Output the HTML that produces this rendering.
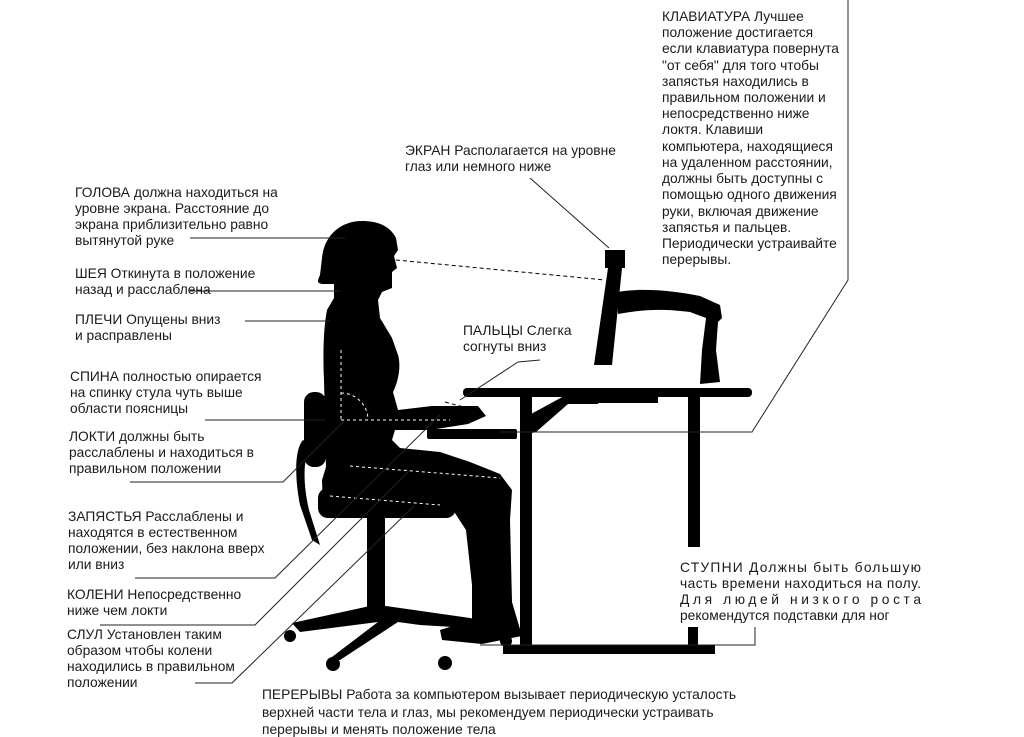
<!DOCTYPE html>
<html><head><meta charset="utf-8"><style>
html,body{margin:0;padding:0;background:#fff}
svg{display:block}
text{font-family:"Liberation Sans",sans-serif;font-size:13.8px;fill:#1a1a1a}
</style></head><body>
<svg width="1024" height="737" viewBox="0 0 1024 737" xmlns="http://www.w3.org/2000/svg">
<g fill="#000">
<!-- desk -->
<rect x="463" y="388" width="289" height="9" rx="4"/>
<rect x="520" y="395" width="12" height="252"/>
<rect x="688" y="395" width="12" height="152"/>
<rect x="503" y="645" width="212" height="9"/>
<rect x="688" y="627" width="10" height="18"/>
<polygon points="680,645 706,645 712,650 675,650"/>
<polygon points="520,420 566,395 600,395 598,404 568,404 536,432 520,436"/>
<rect x="427" y="429" width="90" height="10" rx="2"/>
<rect x="580" y="395" width="78" height="8"/>
<!-- monitor -->
<rect x="605" y="250" width="20" height="18"/>
<polygon points="608,268 622,268 612,365 594,365"/>
<path d="M617,292 C640,288 670,290 700,296 L720,305 L722,318 L718,322 L716,350 L720,382 L700,384 L702,350 L706,318 L690,312 C660,308 640,310 618,314 Z"/>
<!-- person -->
<path d="M362,221 C340,221 324,236 322,258 L320,275 C318,280 316,283 322,284 L334,284 L334,298 L327,310 C323,330 323,360 324,380 L325,420 L326,467 L322,480 L323,508 L453,510 L466,530 L472,585 L472,620 L440,630 L442,640 L482,644 L522,636 L512,602 L510,520 L512,490 L500,474 L470,462 L440,452 L400,448 L392,440 L395,430 L430,430 L468,424 L486,416 L478,406 L432,406 L398,410 L393,392 C399,380 401,365 398,355 L392,338 L380,318 L378,300 L382,292 L392,288 L392,272 L397,268 L394,256 L398,250 L396,238 C390,226 378,221 362,221 Z"/>
<!-- chair -->
<rect x="304" y="392" width="22" height="75" rx="10"/>
<path d="M303,440 C294,450 295,480 300,505 L312,540 L320,545 L309,510 C302,480 304,458 310,444 Z"/>
<rect x="318" y="488" width="138" height="30" rx="10"/>
<rect x="367" y="515" width="18" height="95"/>
<polygon points="292,623 370,606 386,606 470,618 512,628 512,634 470,628 420,625 398,622 340,660 328,660 378,622 300,632"/>
<circle cx="290" cy="636" r="6"/><circle cx="333" cy="664" r="7"/><circle cx="445" cy="663" r="7"/><circle cx="506" cy="641" r="6"/>
</g>
<g stroke="#fff" stroke-width="1" stroke-dasharray="3,3" fill="none">
<line x1="341" y1="350" x2="341" y2="420"/>
<line x1="341" y1="420" x2="450" y2="420"/>
<line x1="350" y1="466" x2="500" y2="478"/>
<line x1="330" y1="496" x2="440" y2="505"/>
<path d="M341,393 A27,27 0 0 1 368,420"/>
</g>
<g stroke="#000" stroke-width="1" stroke-dasharray="4,3" fill="none">
<line x1="396" y1="260" x2="605" y2="280"/>
<line x1="445" y1="402" x2="475" y2="410"/>
</g>
<g stroke="#222" stroke-width="1" fill="none">
<line x1="190" y1="238" x2="345" y2="238"/>
<line x1="190" y1="291" x2="340" y2="291"/>
<line x1="245" y1="321" x2="330" y2="321"/>
<line x1="205" y1="420" x2="325" y2="420"/>
<polyline points="130,482 283,482 345,420"/>
<polyline points="135,578 275,578 440,415"/>
<polyline points="100,625 255,625 410,470"/>
<polyline points="195,683 232,683 415,505"/>
<line x1="530" y1="178" x2="609" y2="248"/>
<polyline points="540,360 518,362 460,400"/>
<polyline points="848,0 848,280 752,432 500,432"/>
<polyline points="480,645 755,645 755,627"/>
</g>
<text x="75" y="197">ГОЛОВА должна находиться на</text>
<text x="75" y="213">уровне экрана. Расстояние до</text>
<text x="75" y="229">экрана приблизительно равно</text>
<text x="75" y="245">вытянутой руке</text>
<text x="75" y="278">ШЕЯ   Откинута в положение</text>
<text x="75" y="294">назад и расслаблена</text>
<text x="75" y="324">ПЛЕЧИ Опущены вниз</text>
<text x="75" y="340">и расправлены</text>
<text x="70" y="381">СПИНА полностью опирается</text>
<text x="70" y="397">на спинку стула  чуть выше</text>
<text x="70" y="413">области поясницы</text>
<text x="69" y="441">ЛОКТИ должны быть</text>
<text x="69" y="457">расслаблены и находиться в</text>
<text x="69" y="473">правильном положении</text>
<text x="68" y="521">ЗАПЯСТЬЯ Расслаблены и</text>
<text x="68" y="537">находятся в естественном</text>
<text x="68" y="553">положении, без наклона вверх</text>
<text x="68" y="569">или вниз</text>
<text x="67" y="599">КОЛЕНИ Непосредственно</text>
<text x="67" y="615">ниже чем локти</text>
<text x="67" y="639">СЛУЛ Установлен таким</text>
<text x="67" y="655">образом чтобы колени</text>
<text x="67" y="671">находились в правильном</text>
<text x="67" y="687">положении</text>
<text x="262" y="699">ПЕРЕРЫВЫ Работа за компьютером вызывает периодическую усталость</text>
<text x="262" y="717">верхней части тела и глаз, мы рекомендуем периодически устраивать</text>
<text x="262" y="734">перерывы и менять положение тела</text>
<text x="405" y="155">ЭКРАН Располагается на уровне</text>
<text x="405" y="171">глаз или немного ниже</text>
<text x="463" y="335">ПАЛЬЦЫ Слегка</text>
<text x="463" y="351">согнуты вниз</text>
<text x="662" y="21">КЛАВИАТУРА Лучшее</text>
<text x="662" y="37">положение достигается</text>
<text x="662" y="53">если клавиатура повернута</text>
<text x="662" y="70">"от себя" для того чтобы</text>
<text x="662" y="86">запястья находились в</text>
<text x="662" y="102">правильном положении и</text>
<text x="662" y="118">непосредственно ниже</text>
<text x="662" y="134">локтя.  Клавиши</text>
<text x="662" y="151">компьютера, находящиеся</text>
<text x="662" y="167">на удаленном расстоянии,</text>
<text x="662" y="183">должны быть доступны с</text>
<text x="662" y="199">помощью одного движения</text>
<text x="662" y="216">руки, включая движение</text>
<text x="662" y="232">запястья и пальцев.</text>
<text x="662" y="248">Периодически устраивайте</text>
<text x="662" y="264">перерывы.</text>
<text x="680" y="572" textLength="241" lengthAdjust="spacing">СТУПНИ  Должны  быть  большую</text>
<text x="680" y="588" textLength="241" lengthAdjust="spacing">часть времени находиться  на полу.</text>
<text x="680" y="604" textLength="241" lengthAdjust="spacing">Для     людей     низкого     роста</text>
<text x="680" y="620">рекомендутся подставки для ног</text>
</svg>
</body></html>
